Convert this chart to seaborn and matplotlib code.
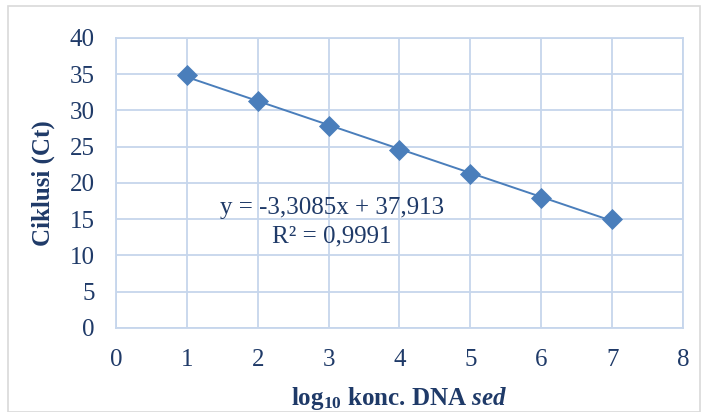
import numpy as np
import pandas as pd
import matplotlib
matplotlib.use("Agg")
import matplotlib.pyplot as plt
import seaborn as sns
from matplotlib.patches import Rectangle

# data
log_konc = [1, 2, 3, 4, 5, 6, 7]
ct = [34.9, 31.25, 27.8, 24.55, 21.3, 17.95, 15.05]
eq_text = "y = -3,3085x + 37,913\nR² = 0,9991"

df = pd.DataFrame({"x": log_konc, "y": ct})

sns.set_style("white")
plt.rcParams["font.family"] = ["Liberation Serif", "DejaVu Serif"]
plt.rcParams["mathtext.fontset"] = "custom"
plt.rcParams["mathtext.rm"] = "Liberation Serif:bold"
plt.rcParams["mathtext.it"] = "Liberation Serif:bold:italic"

blue = "#4A7EBB"
txt = "#1F3A68"
grid = "#C6D6EC"

fig = plt.figure(figsize=(7.02, 4.12), dpi=100)
ax = fig.add_axes([0.165, 0.204, 0.808, 0.704])

sns.regplot(data=df, x="x", y="y", ci=None, ax=ax, marker="D",
            color=blue, scatter_kws={"s": 115, "zorder": 3, "linewidths": 0, "alpha": 1},
            line_kws={"lw": 1.4, "zorder": 2})

ax.set_xlim(0, 8)
ax.set_ylim(0, 40)
ax.set_xticks(range(0, 9))
ax.set_yticks(range(0, 41, 5))
ax.grid(True, color=grid, lw=1.3)
ax.set_axisbelow(True)
for s in ax.spines.values():
    s.set_color(grid)
    s.set_linewidth(1.3)
ax.tick_params(length=0, labelsize=18, labelcolor=txt, pad=15)

ax.set_xlabel(r"log$_{10}$ konc. DNA $\mathit{sed}$", fontsize=18,
              fontweight="bold", color=txt, labelpad=10)
ax.set_ylabel("Ciklusi (Ct)", fontsize=18, fontweight="bold", color=txt,
              labelpad=11)

ax.text(3.05, 14.6, eq_text, ha="center", va="center", multialignment="center",
        fontsize=18, color=txt, linespacing=1.35)

fig.patches.append(Rectangle((0.012, 0.0), 0.985, 0.985, transform=fig.transFigure,
                             fill=False, edgecolor="#D9D9D9", lw=1.2))

fig.savefig("out.png", dpi=100)
